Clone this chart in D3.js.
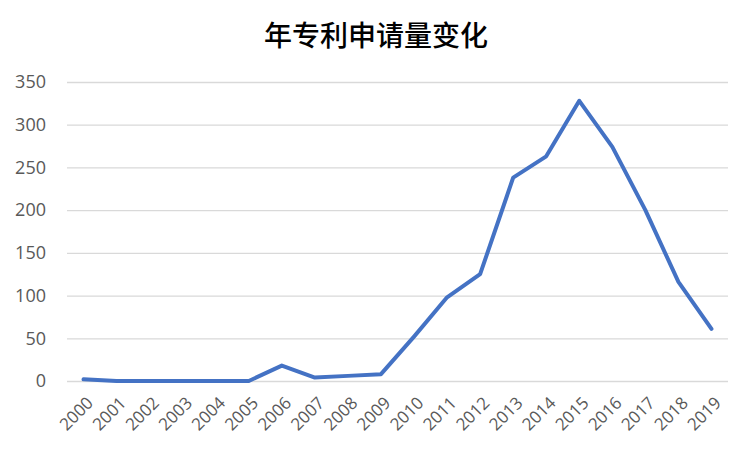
<!DOCTYPE html>
<html lang="zh">
<head>
<meta charset="UTF-8">
<title>年专利申请量变化</title>
<script src="https://cdn.jsdelivr.net/npm/d3@7"></script>
<style>
    body { margin: 0; background: #fff; }
    text { font-family: "Open Sans", "Noto Sans", sans-serif; }
</style>
</head>
<body>
<div id="chart"></div>
<script>
    // data
    const years = ["2000", "2001", "2002", "2003", "2004", "2005", "2006", "2007", "2008", "2009",
                   "2010", "2011", "2012", "2013", "2014", "2015", "2016", "2017", "2018", "2019"];
    const counts = [2, 0, 0, 0, 0, 0, 18, 4, 6, 8, 52, 98, 125, 238, 263, 328, 274, 200, 116, 61];
    const yTicks = [0, 50, 100, 150, 200, 250, 300, 350];

    const W = 750, H = 450;
    const margin = { top: 82, right: 22, bottom: 69, left: 67 };
    const width = W - margin.left - margin.right,
        height = H - margin.top - margin.bottom;

    const svg = d3.select("#chart").append("svg")
        .attr("width", W)
        .attr("height", H);

    svg.append("text")
        .attr("x", 376)
        .attr("y", 46)
        .attr("text-anchor", "middle")
        .style("font-family", "'Noto Sans CJK SC', sans-serif")
        .style("font-size", "28px")
        .style("font-weight", 500)
        .attr("fill", "#000")
        .text("年专利申请量变化");

    const g = svg.append("g")
        .attr("transform", `translate(${margin.left},${margin.top})`);

    const x = d3.scalePoint()
        .domain(years)
        .range([0, width])
        .padding(0.5);

    const y = d3.scaleLinear()
        .domain([0, 350])
        .range([height, 0]);

    // gridlines + y labels
    const yAxis = g.append("g")
        .call(d3.axisLeft(y).tickValues(yTicks).tickSize(-width).tickPadding(21));
    yAxis.select(".domain").remove();
    yAxis.selectAll(".tick line").attr("stroke", "#d9d9d9").attr("stroke-width", 1.3);
    yAxis.selectAll(".tick text")
        .attr("fill", "#595959")
        .style("font-size", "18px");

    // x labels
    const xAxis = g.append("g")
        .attr("transform", `translate(0,${height})`)
        .call(d3.axisBottom(x).tickSize(0));
    xAxis.select(".domain").remove();
    xAxis.selectAll(".tick text")
        .attr("fill", "#595959")
        .style("font-size", "17px")
        .attr("text-anchor", "end")
        .attr("dy", 0)
        .attr("transform", "translate(8,21) rotate(-45)");

    const line = d3.line()
        .x((d, i) => x(years[i]))
        .y(d => y(d));

    g.append("path")
        .datum(counts)
        .attr("fill", "none")
        .attr("stroke", "#4472C4")
        .attr("stroke-width", 4)
        .attr("stroke-linejoin", "round")
        .attr("stroke-linecap", "round")
        .attr("d", line);
</script>
</body>
</html>
